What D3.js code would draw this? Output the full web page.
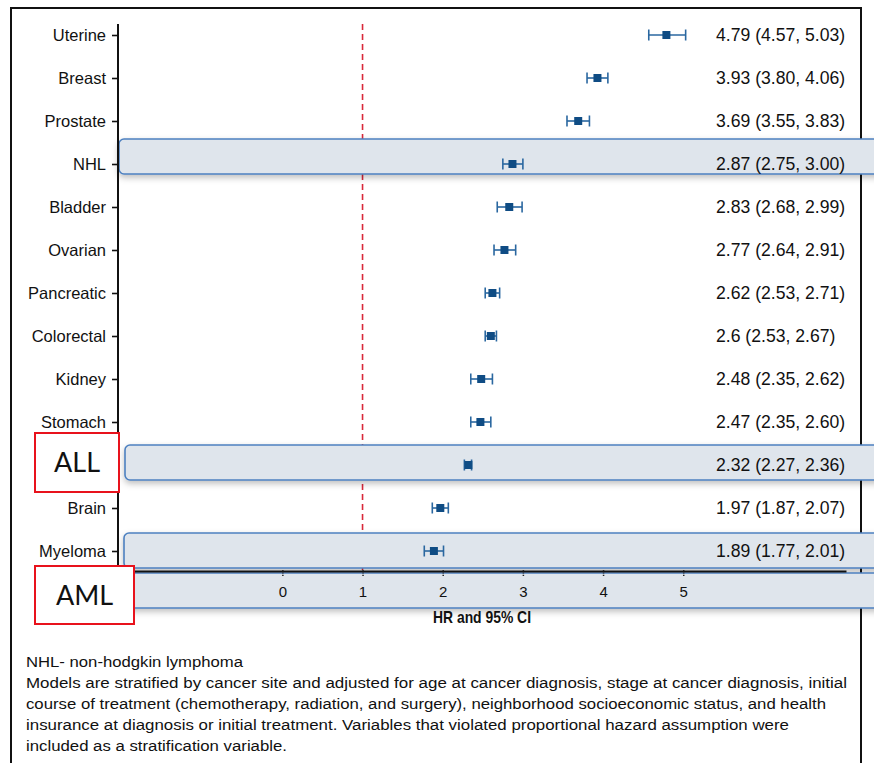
<!DOCTYPE html>
<html><head><meta charset="utf-8">
<script src="https://cdn.jsdelivr.net/npm/d3@7"></script>
<style>html,body{margin:0;padding:0;background:#fff;}svg{display:block;}</style>
</head><body>
<svg id="chart" width="874" height="763"></svg>
<script>
const categories = ["Uterine","Breast","Prostate","NHL","Bladder","Ovarian","Pancreatic","Colorectal","Kidney","Stomach","ALL","Brain","Myeloma"];
const hr   = [4.79, 3.93, 3.69, 2.87, 2.83, 2.77, 2.62, 2.6, 2.48, 2.47, 2.32, 1.97, 1.89];
const lo   = [4.57, 3.80, 3.55, 2.75, 2.68, 2.64, 2.53, 2.53, 2.35, 2.35, 2.27, 1.87, 1.77];
const hi   = [5.03, 4.06, 3.83, 3.00, 2.99, 2.91, 2.71, 2.67, 2.62, 2.60, 2.36, 2.07, 2.01];
const xTicks = [0, 1, 2, 3, 4, 5];
const refValue = 1;
const highlightRows = ["NHL", "ALL", "Myeloma", "AML"];
const redLabels = ["ALL", "AML"];
const xTitle = "HR and 95% CI";
const footnotes = [
  "NHL- non-hodgkin lymphoma",
  "Models are stratified by cancer site and adjusted for age at cancer diagnosis, stage at cancer diagnosis, initial",
  "course of treatment (chemotherapy, radiation, and surgery), neighborhood socioeconomic status, and health",
  "insurance at diagnosis or initial treatment. Variables that violated proportional hazard assumption were",
  "included as a stratification variable."
];

const svg = d3.select("#chart");
const defs = svg.append("defs");
const f = defs.append("filter").attr("id","shadow").attr("x","-5%").attr("y","-40%").attr("width","110%").attr("height","200%");
f.append("feDropShadow").attr("dx",0).attr("dy",3).attr("stdDeviation",3).attr("flood-color","#000").attr("flood-opacity",0.25);

const x = d3.scaleLinear().domain([-2.05, 7.03]).range([118, 846]);
const y = d3.scalePoint().domain(categories).range([13.5, 572.5]).padding(0.5);
const step = y.step();
const axisY = 571;
const sans = "'Liberation Sans', Arial, Helvetica, sans-serif";

// outer frame
svg.append("path").attr("d","M11,763 L11,8 L861,8 L861,763").attr("fill","none").attr("stroke","#111").attr("stroke-width",2);

// reference line
svg.append("line").attr("x1",x(refValue)).attr("x2",x(refValue)).attr("y1",24).attr("y2",axisY)
  .attr("stroke","#d8283a").attr("stroke-width",1.6).attr("stroke-dasharray","6,4");

// highlight boxes
const boxYOffset = {NHL:-25, ALL:-20, Myeloma:-18, AML:-21};
const boxLeft = {NHL:119, ALL:125, Myeloma:124, AML:123};
const rowY = n => categories.includes(n) ? y(n) : y(categories[categories.length-1]) + step;
svg.append("g").selectAll("rect").data(highlightRows).join("rect")
  .attr("x", d => boxLeft[d]).attr("y", d => rowY(d) + boxYOffset[d])
  .attr("width", 790).attr("height", 35).attr("rx", 5)
  .attr("fill", "#dfe5ec").attr("stroke", "#4d80c0").attr("stroke-width", 1.6)
  .attr("filter", "url(#shadow)");

// y axis
const yAxis = svg.append("g").attr("transform","translate(118,0)")
  .call(d3.axisLeft(y).tickSize(6).tickPadding(6).tickSizeOuter(0));
yAxis.select(".domain").remove();
yAxis.selectAll(".tick line").attr("stroke","#111").attr("stroke-width",1.6);
yAxis.selectAll(".tick text").attr("font-family",sans).attr("font-size",16.5).attr("fill","#111")
  .attr("dy","0.35em").attr("x",-12);
// labels replaced by the red annotation boxes
yAxis.selectAll(".tick").filter(d => redLabels.includes(d)).select("text").remove();
svg.append("line").attr("x1",118).attr("x2",118).attr("y1",24).attr("y2",axisY+1).attr("stroke","#111").attr("stroke-width",2);

// x axis
const xAxis = svg.append("g").attr("transform",`translate(0,${axisY})`)
  .call(d3.axisBottom(x).tickValues(xTicks).tickFormat(d3.format("d")).tickSize(5).tickPadding(10).tickSizeOuter(0));
xAxis.select(".domain").attr("stroke","#111").attr("stroke-width",2);
xAxis.selectAll(".tick line").attr("stroke","#222").attr("stroke-width",1.5).attr("stroke-dasharray","1.2,1.2").attr("y1",-1);
xAxis.selectAll(".tick text").attr("font-family",sans).attr("font-size",15).attr("fill","#111");

svg.append("text").attr("x",433).attr("y",623)
  .attr("font-family",sans).attr("font-weight","bold")
  .attr("font-size",17).attr("fill","#111")
  .attr("textLength",98).attr("lengthAdjust","spacingAndGlyphs").text(xTitle);

// CI whiskers and markers
const idx = d3.range(categories.length);
const g = svg.append("g");
g.selectAll("line.ci").data(idx).join("line").attr("class","ci")
  .attr("x1", i => x(lo[i])).attr("x2", i => x(hi[i])).attr("y1", i => y(categories[i])).attr("y2", i => y(categories[i]))
  .attr("stroke","#2a67a0").attr("stroke-width",1.6);
g.selectAll("line.capL").data(idx).join("line").attr("class","capL")
  .attr("x1", i => x(lo[i])).attr("x2", i => x(lo[i])).attr("y1", i => y(categories[i]) - 5.5).attr("y2", i => y(categories[i]) + 5.5)
  .attr("stroke","#2a67a0").attr("stroke-width",1.6);
g.selectAll("line.capR").data(idx).join("line").attr("class","capR")
  .attr("x1", i => x(hi[i])).attr("x2", i => x(hi[i])).attr("y1", i => y(categories[i]) - 5.5).attr("y2", i => y(categories[i]) + 5.5)
  .attr("stroke","#2a67a0").attr("stroke-width",1.6);
g.selectAll("rect.pt").data(idx).join("rect").attr("class","pt")
  .attr("x", i => x(hr[i]) - 4).attr("y", i => y(categories[i]) - 4).attr("width",8).attr("height",8)
  .attr("fill","#0f4c84");

// value labels
g.selectAll("text.val").data(idx).join("text").attr("class","val")
  .attr("x",716).attr("y", i => y(categories[i])).attr("dy","0.35em")
  .attr("font-family",sans).attr("font-size",17.6).attr("fill","#111")
  .text(i => `${hr[i]} (${lo[i].toFixed(2)}, ${hi[i].toFixed(2)})`);

// red label boxes
const redBox = {ALL:{x:35, y:433, w:84, h:59}, AML:{x:35, y:566, w:99, h:58}};
const rg = svg.append("g");
redLabels.forEach(n => {
  const b = redBox[n];
  rg.append("rect").attr("x",b.x).attr("y",b.y).attr("width",b.w).attr("height",b.h)
    .attr("fill","#fff").attr("stroke","#e8121c").attr("stroke-width",2);
  rg.append("text").attr("x",b.x + b.w/2).attr("y",b.y + b.h/2).attr("dy","0.36em").attr("text-anchor","middle")
    .attr("font-family","Lato, 'Open Sans', sans-serif").attr("font-size",27).attr("fill","#111").text(n);
});

// footnotes
const footWidths = [217, 821, 800, 763, 261];
svg.append("g").selectAll("text").data(footnotes).join("text")
  .attr("x",26).attr("y",(d,i) => 667 + i*21)
  .attr("font-family",sans)
  .attr("font-size",15.3).attr("fill","#111").text(d => d)
  .each(function(d,i){
    const w = this.getComputedTextLength();
    if (Math.abs(w - footWidths[i]) > 3) d3.select(this).attr("textLength", footWidths[i]).attr("lengthAdjust","spacingAndGlyphs");
  });
</script>
</body></html>
